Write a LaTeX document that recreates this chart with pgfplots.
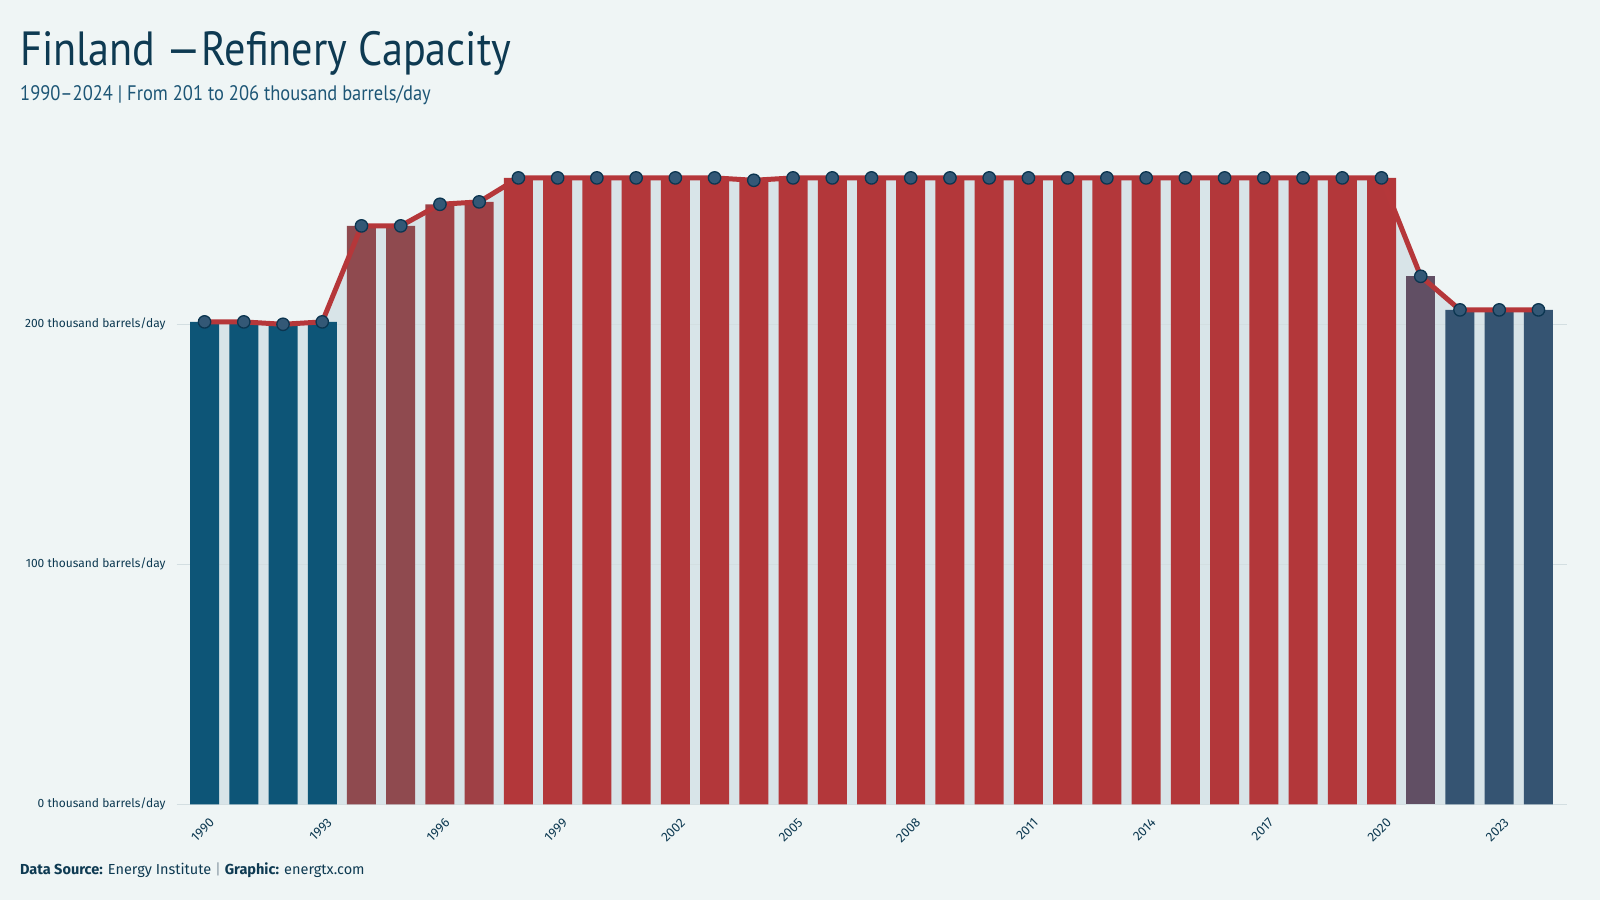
\documentclass[border=0pt]{standalone}
\usepackage{pgfplots}
\pgfplotsset{compat=1.18}
\usepackage{fontspec}
\setmainfont{Fira Sans}
\newfontfamily\titlefont[FakeStretch=0.88]{PT Sans}
\definecolor{bg}{HTML}{EFF5F5}
\definecolor{titlec}{HTML}{0E3A52}
\definecolor{subc}{HTML}{1D5676}
\definecolor{gridc}{HTML}{D3DEE1}
\definecolor{areac}{HTML}{D8E4E8}
\definecolor{linec}{HTML}{B5373A}
\definecolor{markc}{HTML}{335876}
\definecolor{markd}{HTML}{0B3550}
\definecolor{cA}{HTML}{0D5577}
\definecolor{cB}{HTML}{8F4A4F}
\definecolor{cC}{HTML}{9F4045}
\definecolor{cD}{HTML}{B3373A}
\definecolor{cE}{HTML}{614F64}
\definecolor{cF}{HTML}{355472}
\definecolor{sepc}{HTML}{8A9AA5}
\begin{document}
\begin{tikzpicture}
\fill[bg] (0pt,0pt) rectangle (1600pt,900pt);
\node[anchor=base west, inner sep=0, text=titlec, font=\titlefont\fontsize{48}{52}\selectfont] at (20pt,834pt) {Finland —Refinery Capacity};
\node[anchor=base west, inner sep=0, text=subc, font=\titlefont\fontsize{21}{24}\selectfont] at (20pt,799.5pt) {1990–2024 | From 201 to 206 thousand barrels/day};
\node[anchor=base west, inner sep=0, text=titlec, font=\fontsize{14.5}{16}\selectfont] at (20pt,26pt) {\textbf{Data Source:} Energy Institute {\color{sepc}|} \textbf{Graphic:} energtx.com};
\begin{axis}[
  at={(176.7pt,95.7pt)}, anchor=south west,
  scale only axis, width=1390pt, height=660pt,
  xmin=1989.29, xmax=2024.72, ymin=0, ymax=275,
  axis line style={draw=none}, major tick length=0pt,
  ytick={0,100,200},
  yticklabels={0 thousand barrels/day,100 thousand barrels/day,200 thousand barrels/day},
  yticklabel style={font=\fontsize{12}{14}\selectfont, text=titlec, anchor=east, inner sep=0pt, xshift=-11pt},
  xtick={1990,1993,1996,1999,2002,2005,2008,2011,2014,2017,2020,2023},
  xticklabels={1990,1993,1996,1999,2002,2005,2008,2011,2014,2017,2020,2023},
  xticklabel style={font=\fontsize{13}{15}\selectfont, text=titlec, rotate=45, anchor=north east, inner sep=0pt, xshift=-6pt, yshift=-12pt},
  clip=false,
]
\pgfplotstableread{
year val
1990 201
1991 201
1992 200
1993 201
1994 241
1995 241
1996 250
1997 251
1998 261
1999 261
2000 261
2001 261
2002 261
2003 261
2004 260
2005 261
2006 261
2007 261
2008 261
2009 261
2010 261
2011 261
2012 261
2013 261
2014 261
2015 261
2016 261
2017 261
2018 261
2019 261
2020 261
2021 220
2022 206
2023 206
2024 206
}\datatable
\addplot[fill=areac, draw=none] table[x=year,y=val] {\datatable} \closedcycle;
\addplot[gridc, line width=1pt] coordinates {(1989.29,0) (2024.72,0)};
\addplot[gridc, line width=1pt] coordinates {(1989.29,100) (2024.72,100)};
\addplot[gridc, line width=1pt] coordinates {(1989.29,200) (2024.72,200)};
\addplot[ybar, bar shift=0pt, bar width=29pt, fill=cA, draw=none] coordinates {(1990,201) (1991,201) (1992,200) (1993,201)};
\addplot[ybar, bar shift=0pt, bar width=29pt, fill=cB, draw=none] coordinates {(1994,241) (1995,241)};
\addplot[ybar, bar shift=0pt, bar width=29pt, fill=cC, draw=none] coordinates {(1996,250) (1997,251)};
\addplot[ybar, bar shift=0pt, bar width=29pt, fill=cD, draw=none] coordinates {(1998,261) (1999,261) (2000,261) (2001,261) (2002,261) (2003,261) (2004,260) (2005,261) (2006,261) (2007,261) (2008,261) (2009,261) (2010,261) (2011,261) (2012,261) (2013,261) (2014,261) (2015,261) (2016,261) (2017,261) (2018,261) (2019,261) (2020,261)};
\addplot[ybar, bar shift=0pt, bar width=29pt, fill=cE, draw=none] coordinates {(2021,220)};
\addplot[ybar, bar shift=0pt, bar width=29pt, fill=cF, draw=none] coordinates {(2022,206) (2023,206) (2024,206)};
\addplot[linec, line width=5pt, line join=round, mark=*, mark size=6.2pt, mark options={fill=markc, draw=markd, line width=1.3pt}] table[x=year,y=val] {\datatable};
\end{axis}
\end{tikzpicture}
\end{document}
